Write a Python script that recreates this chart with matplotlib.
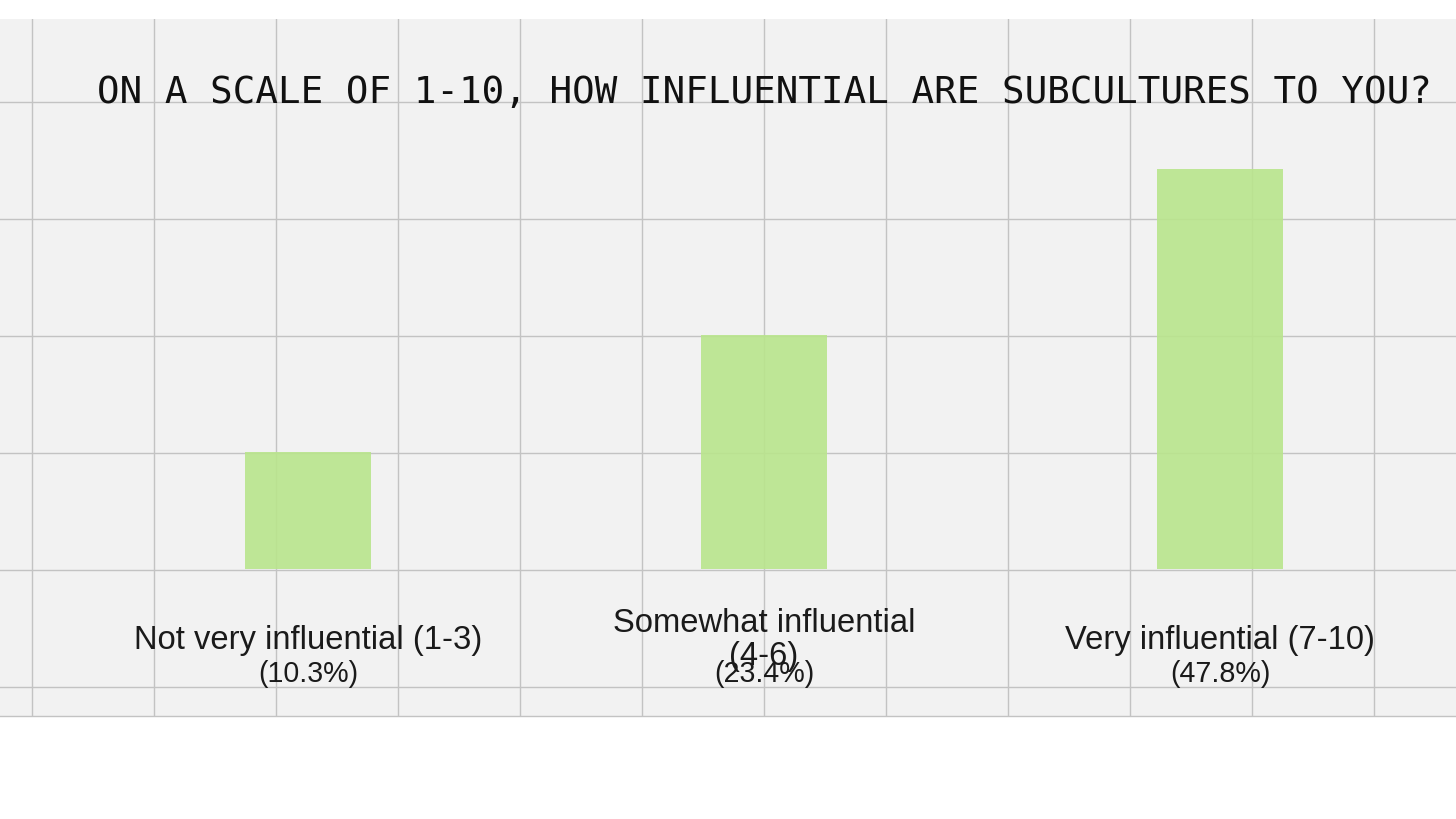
import matplotlib
matplotlib.use('Agg')
import matplotlib.pyplot as plt
import numpy as np

# ---- data ----
categories = ["Not very influential (1-3)", "Somewhat influential\n(4-6)", "Very influential (7-10)"]
percent_labels = ["(10.3%)", "(23.4%)", "(47.8%)"]
bar_heights = [1.0, 2.0, 3.42]
title = "ON A SCALE OF 1-10, HOW INFLUENTIAL ARE SUBCULTURES TO YOU?"

# ---- layout (pixels) ----
W, H = 1456, 820
paper_top, paper_bottom = 20, 717
base_px, unit_px = 570, 117
x0_px, spacing_px = 308, 456

fig = plt.figure(figsize=(W / 100, H / 100), dpi=100)
fig.patch.set_facecolor('white')
rect = [0, (H - paper_bottom) / H, 1, (paper_bottom - paper_top) / H]

# graph-paper background
bg = fig.add_axes(rect)
bg.set_xlim(0, W)
bg.set_ylim(paper_bottom, paper_top)
bg.set_facecolor('#f2f2f2')
bg.set_xticks(np.arange(32, W, 122))
bg.set_yticks(np.arange(103, paper_bottom - 10, 117))
bg.grid(True, color='#c3c3c3', lw=1.0)
bg.tick_params(length=0, labelbottom=False, labelleft=False)
for s in ['top', 'left', 'right']:
    bg.spines[s].set_visible(False)
bg.spines['bottom'].set_color('#c3c3c3')
bg.spines['bottom'].set_linewidth(1.0)

# bars
ax = fig.add_axes(rect, facecolor='none')
x = np.arange(len(categories))
ax.set_xlim(-x0_px / spacing_px, (W - x0_px) / spacing_px)
ax.set_ylim(-(paper_bottom - base_px) / unit_px, (base_px - paper_top) / unit_px)
ax.bar(x, bar_heights, width=126 / spacing_px, color='#b9e58c', alpha=0.9, zorder=2)
ax.axis('off')

y_label = (base_px - 640) / unit_px
y_pct = (base_px - 682) / unit_px
for xi, cat, pct in zip(x, categories, percent_labels):
    ax.text(xi, y_label, cat, ha='center', va='center', fontsize=23.6,
            family='Liberation Sans', color='#1a1a1a', linespacing=1.1)
    ax.text(xi, y_pct, pct, ha='center', va='baseline', fontsize=20.6,
            family='Liberation Sans', color='#1a1a1a')

ax.text(1, (base_px - 103) / unit_px, title, ha='center', va='baseline',
        fontsize=27.0, family='DejaVu Sans Mono', color='#111111')

fig.savefig('out.png', dpi=100, facecolor='white')
